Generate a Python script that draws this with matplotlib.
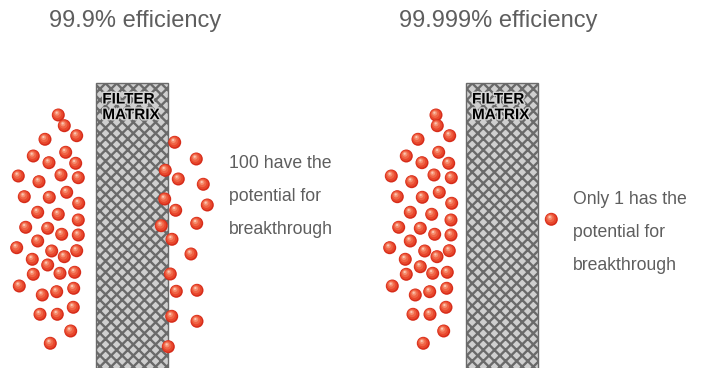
import matplotlib.pyplot as plt
from matplotlib.patches import Circle, Rectangle
import matplotlib.patheffects as pe

plt.rcParams['font.family'] = ['Liberation Sans', 'DejaVu Sans']
plt.rcParams['hatch.color'] = '#646464'
plt.rcParams['hatch.linewidth'] = 1.7

# particle positions (px), 99.9% panel
left_up_x = [58.3, 64.3, 76.7, 45, 33.3, 65.7, 49, 75.7, 18.3, 39, 61, 78.3, 24.3, 49.3,
             66.7, 78.7, 37.7, 58.3, 78.3, 25.7, 47.7, 61.7, 78.3, 37.7, 16.7, 51.7, 64.3,
             76.7, 32.3, 47.7, 33.3, 60, 74.7, 19.3, 42.3, 56.7, 73.7, 40, 57.3, 73.3,
             70.7, 50.3]
left_up_y = [115, 125.7, 135.7, 139.3, 156, 152.3, 162.7, 163.3, 176, 181.7, 175, 177.7,
             196.7, 197.3, 192.3, 203.3, 212.3, 214.3, 220, 227.3, 228.3, 234.3, 235, 241,
             247.7, 251, 256.7, 250.7, 259.3, 265, 274.3, 273.3, 272.3, 286, 295, 291.7,
             288.3, 314.3, 314.3, 307.3, 331, 343.3]
left_down_x = [174.7, 196.3, 165.3, 178.3, 203.3, 164.7, 175.7, 207.3, 161.3, 196.7, 172,
               191, 170.3, 176.3, 197, 171.7, 197, 168.3]
left_down_y = [142.3, 159, 170.3, 179, 184.3, 199, 210.3, 205, 225.7, 223.3, 239.3, 254,
               274, 291.3, 290.3, 316.3, 321.3, 346.7]

# particle positions (px), 99.999% panel
right_up_x = [436, 437.3, 449.7, 418, 406.3, 438.7, 422, 448.7, 391.3, 411.7, 434, 451.3,
              397.3, 422.3, 439.3, 451.7, 410.3, 431.7, 451, 398.7, 420.3, 434.7, 451,
              410.3, 389.7, 424.7, 437, 449.3, 405.3, 420.3, 406.3, 432.7, 447.3, 392.3,
              415.3, 429.7, 446.7, 413, 430, 446, 443.7, 423.3]
right_up_y = left_up_y[:29] + [266.7] + left_up_y[30:]
right_down_x = [551.3]
right_down_y = [219.3]

titles = ['99.9% efficiency', '99.999% efficiency']
notes = [['100 have the', 'potential for', 'breakthrough'],
         ['Only 1 has the', 'potential for', 'breakthrough']]

fig = plt.figure(figsize=(7.21, 3.68), dpi=100)
ax = fig.add_axes([0, 0, 1, 1])
ax.set_xlim(0, 721)
ax.set_ylim(368, 0)
ax.axis('off')


def ball(x, y, r=6.5):
    layers = [(0, 0, 1.0, '#d62c1a'), (-0.4, -0.5, 0.84, '#e8472c'),
              (-0.9, -1.1, 0.62, '#f06446'), (-1.3, -1.8, 0.38, '#f68e6f'),
              (-1.6, -2.3, 0.17, '#fcc6b3')]
    for dx, dy, f, c in layers:
        ax.add_patch(Circle((x + dx, y + dy), r * f, facecolor=c, edgecolor='none', zorder=4))


def panel(fx, up_x, up_y, down_x, down_y, title, note, tx, ty, nx, ny):
    ax.add_patch(Rectangle((fx, 83), 71.5, 290, facecolor='#cfcfcf', edgecolor='#6a6a6a',
                           hatch='xxx', linewidth=1.0, zorder=2))
    t = ax.text(fx + 6, 92.5, 'FILTER\nMATRIX', fontsize=11, fontweight='bold', color='black',
                ha='left', va='top', linespacing=1.15, zorder=3)
    t.set_path_effects([pe.withStroke(linewidth=2, foreground='#d6d6d6')])
    for x, y in zip(up_x, up_y):
        ball(x, y)
    for x, y in zip(down_x, down_y):
        ball(x, y)
    ax.text(tx, ty, title, fontsize=17, color='#5e5e5e', ha='left', va='center')
    for i, line in enumerate(note):
        ax.text(nx, ny + i * 33.5, line, fontsize=12.7, color='#5e5e5e', ha='left', va='center')


panel(96.3, left_up_x, left_up_y, left_down_x, left_down_y, titles[0], notes[0],
      49, 21.5, 229, 163)
panel(466, right_up_x, right_up_y, right_down_x, right_down_y, titles[1], notes[1],
      399, 21.5, 573, 199)

fig.savefig('out.png', dpi=100)
